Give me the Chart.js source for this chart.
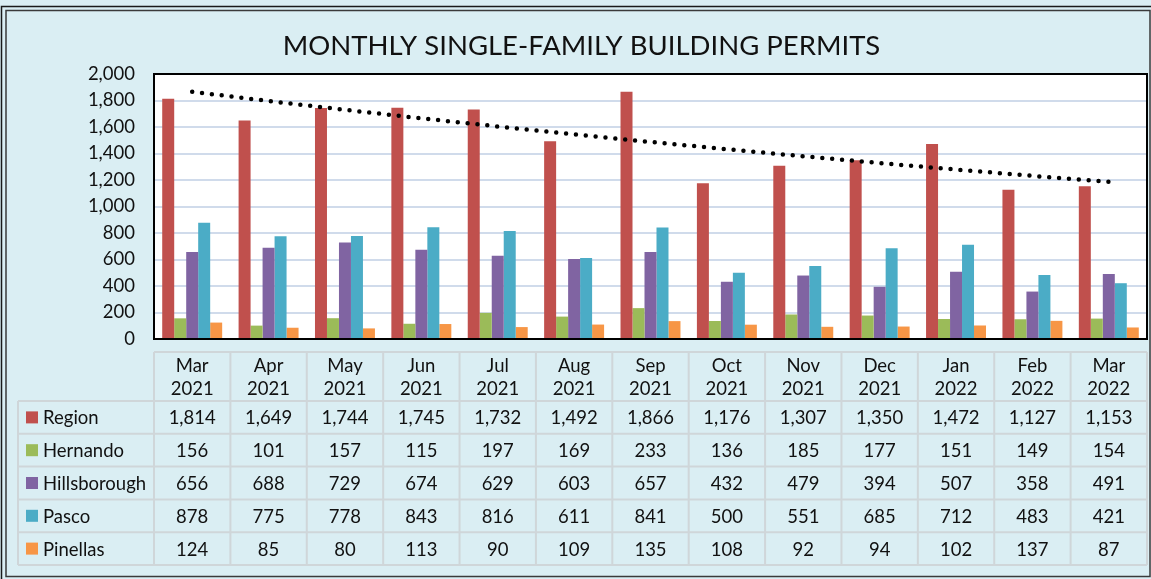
<!DOCTYPE html>
<html>
<head>
<meta charset="utf-8">
<script src="https://cdn.jsdelivr.net/npm/chart.js@4.4.1/dist/chart.umd.min.js"></script>
<style>
  html, body { margin:0; padding:0; background:#daeef3; }
  #wrap { width:1151px; height:579px; }
</style>
</head>
<body>
<div id="wrap"><canvas id="permitsChart" width="1151" height="579"></canvas></div>
<script>
// ── Data ──────────────────────────────────────────────────────
const months = ['Mar','Apr','May','Jun','Jul','Aug','Sep','Oct','Nov','Dec','Jan','Feb','Mar'];
const years  = ['2021','2021','2021','2021','2021','2021','2021','2021','2021','2021','2022','2022','2022'];

const region       = [1814, 1649, 1744, 1745, 1732, 1492, 1866, 1176, 1307, 1350, 1472, 1127, 1153];
const hernando     = [156, 101, 157, 115, 197, 169, 233, 136, 185, 177, 151, 149, 154];
const hillsborough = [656, 688, 729, 674, 629, 603, 657, 432, 479, 394, 507, 358, 491];
const pasco        = [878, 775, 778, 843, 816, 611, 841, 500, 551, 685, 712, 483, 421];
const pinellas     = [124, 85, 80, 113, 90, 109, 135, 108, 92, 94, 102, 137, 87];

const seriesNames  = ['Region','Hernando','Hillsborough','Pasco','Pinellas'];
const seriesData   = [region, hernando, hillsborough, pasco, pinellas];
const seriesColors = ['#c0504d','#9bbb59','#8064a2','#4bacc6','#f79646'];

const yMax  = 2000;
const yStep = 200;

const BG   = '#daeef3';
const FONT = 'Lato, "Open Sans", sans-serif';

// Excel-style exponential trendline for Region (least squares on ln y)
function expTrend(vals) {
  const n = vals.length;
  const xm = (n - 1) / 2;
  const lns = vals.map(v => Math.log(v));
  const lm = lns.reduce((a, b) => a + b, 0) / n;
  let sxy = 0, sxx = 0;
  lns.forEach((l, i) => { sxy += (i - xm) * (l - lm); sxx += (i - xm) * (i - xm); });
  const b = sxy / sxx;
  return vals.map((_, i) => Math.exp(lm + b * (i - xm)));
}

const fmt = v => v.toLocaleString('en-US');

// ── Frame, plot box and data table ───────────────────────────
const tablePlugin = {
  id: 'dataTable',
  beforeDraw(chart) {
    const { ctx, chartArea: a } = chart;
    ctx.save();
    ctx.fillStyle = BG;
    ctx.fillRect(0, 0, chart.width, chart.height);
    ctx.lineWidth = 1.5;
    ctx.strokeStyle = '#1a1a1a';
    ctx.strokeRect(1.5, 6.5, 1170, 590);
    ctx.strokeStyle = '#3a3a3a';
    ctx.strokeRect(6, 10.5, 1144, 566);
    ctx.fillStyle = '#ffffff';
    ctx.fillRect(a.left, a.top, a.right - a.left, a.bottom - a.top);
    ctx.restore();
  },
  afterDatasetsDraw(chart) {
    const { ctx, chartArea: a } = chart;
    ctx.save();
    ctx.strokeStyle = '#000';
    ctx.lineWidth = 2;
    ctx.strokeRect(a.left, a.top, a.right - a.left, a.bottom - a.top);
    ctx.restore();
  },
  afterDraw(chart) {
    const { ctx } = chart;
    const xs = chart.scales.x;
    const colW = xs.width / months.length;
    const left0 = 18, left1 = xs.left, right = xs.right;
    const top = 352, headBot = 401, rowH = 32.8;
    const rowsBot = headBot + rowH * seriesNames.length;

    ctx.save();
    // grid
    ctx.strokeStyle = '#cfd6d9';
    ctx.lineWidth = 2;
    ctx.beginPath();
    ctx.moveTo(left1, top); ctx.lineTo(right, top);
    for (let r = 0; r <= seriesNames.length; r++) {
      const y = headBot + r * rowH;
      ctx.moveTo(left0, y); ctx.lineTo(right, y);
    }
    ctx.moveTo(left0, headBot); ctx.lineTo(left0, rowsBot);
    for (let i = 0; i <= months.length; i++) {
      const x = left1 + i * colW;
      ctx.moveTo(x, top); ctx.lineTo(x, rowsBot);
    }
    ctx.stroke();

    // header
    ctx.fillStyle = '#111';
    ctx.font = '18.5px ' + FONT;
    ctx.textAlign = 'center';
    ctx.textBaseline = 'middle';
    months.forEach((m, i) => {
      const cx = xs.getPixelForValue(i);
      ctx.fillText(m, cx, 366);
      ctx.fillText(years[i], cx, 389);
    });

    // rows
    seriesNames.forEach((name, r) => {
      const cy = headBot + r * rowH + rowH / 2;
      ctx.fillStyle = seriesColors[r];
      ctx.fillRect(26, cy - 6, 12, 12);
      ctx.fillStyle = '#111';
      ctx.textAlign = 'left';
      ctx.fillText(name, 43, cy + 1);
      ctx.textAlign = 'center';
      seriesData[r].forEach((v, i) => {
        ctx.fillText(fmt(v), xs.getPixelForValue(i), cy + 1);
      });
    });
    ctx.restore();
  }
};

// ── Chart ─────────────────────────────────────────────────────
const barSets = seriesNames.map((name, i) => ({
  type: 'bar',
  label: name,
  data: seriesData[i],
  backgroundColor: seriesColors[i],
  borderWidth: 0,
  categoryPercentage: 0.785,
  barPercentage: 1.0,
  order: 1,
}));

new Chart(document.getElementById('permitsChart'), {
  type: 'bar',
  data: {
    labels: months.map((m, i) => [m, years[i]]),
    datasets: [
      ...barSets,
      {
        type: 'line',
        label: 'Trend',
        data: expTrend(region),
        borderColor: '#000',
        borderWidth: 4.5,
        borderDash: [0, 9.9],
        borderCapStyle: 'round',
        pointRadius: 0,
        fill: false,
        tension: 0,
        order: 0,
      }
    ]
  },
  options: {
    responsive: false,
    animation: false,
    devicePixelRatio: 1,
    layout: { padding: { left: 16, right: 4, top: 0, bottom: 240 } },
    plugins: {
      legend: { display: false },
      tooltip: { enabled: false },
      title: {
        display: true,
        text: 'MONTHLY SINGLE-FAMILY BUILDING PERMITS',
        color: '#111',
        font: { family: FONT, size: 27.5, weight: 'normal' },
        padding: { top: 30, bottom: 11 },
      }
    },
    scales: {
      x: { display: false },
      y: {
        min: 0,
        max: yMax,
        afterFit(scale) { scale.width = 138; },
        border: { display: false },
        grid: { color: '#d0dbeb', lineWidth: 2, drawTicks: false },
        ticks: {
          stepSize: yStep,
          padding: 19,
          color: '#111',
          font: { family: FONT, size: 18.5 },
          callback: v => fmt(v),
        }
      }
    }
  },
  plugins: [tablePlugin]
});
</script>
</body>
</html>
